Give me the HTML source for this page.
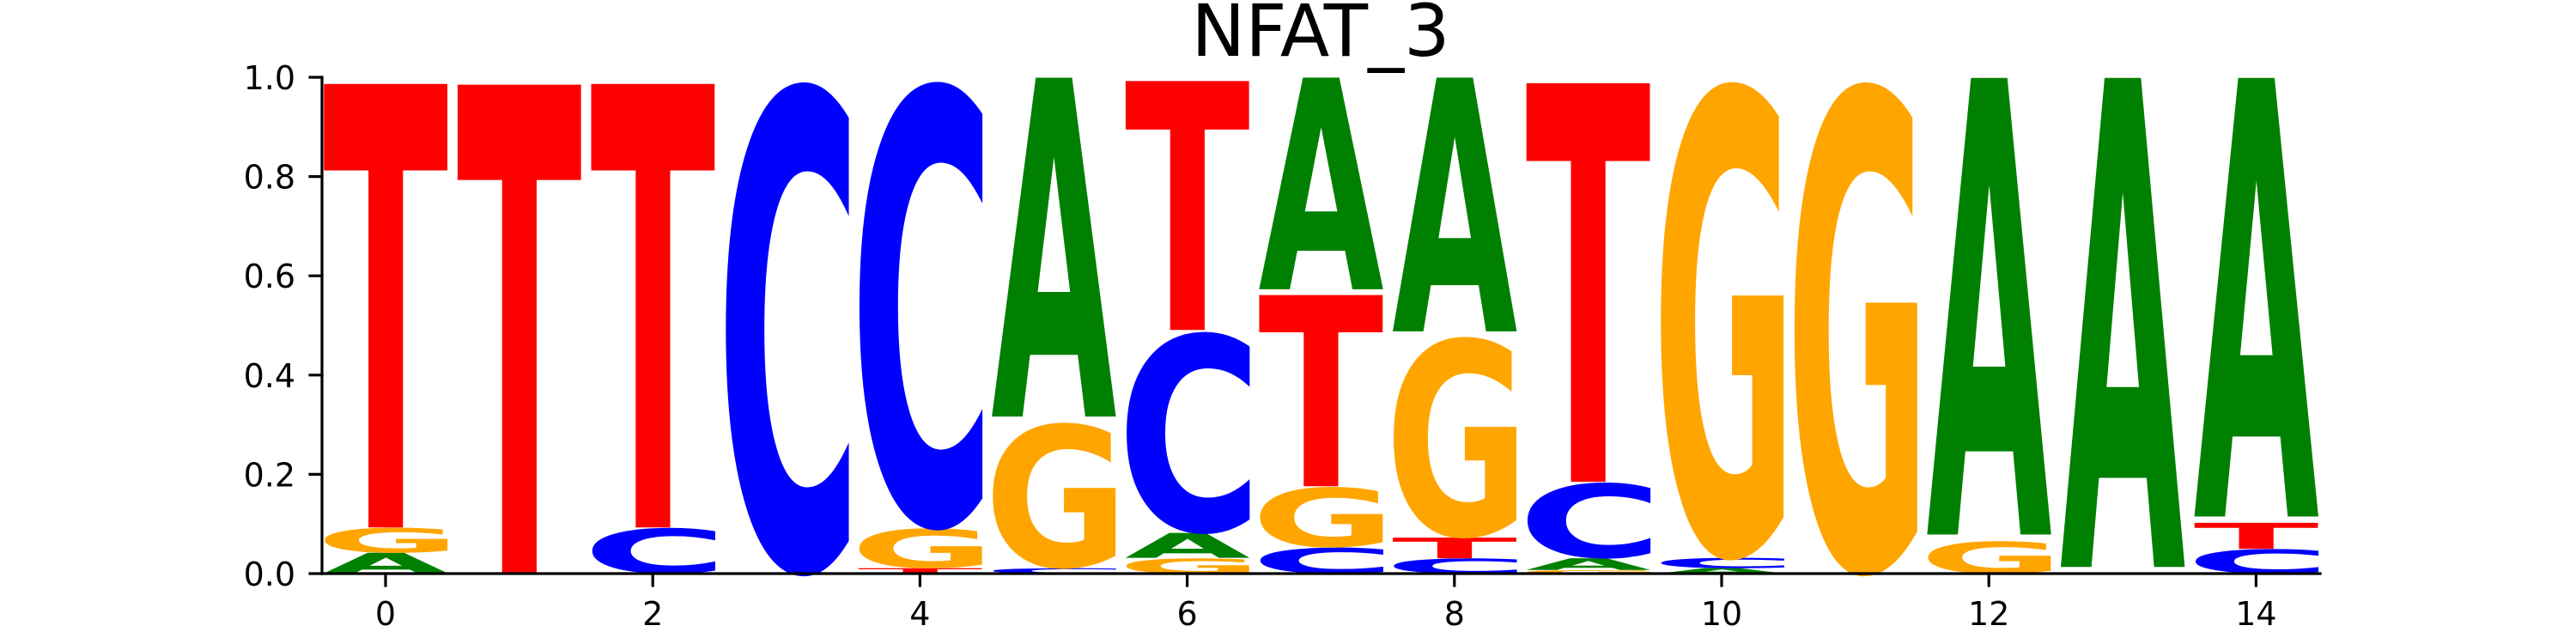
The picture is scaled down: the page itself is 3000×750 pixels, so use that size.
<!DOCTYPE html>
<html><head><meta charset="utf-8"><style>
html,body{margin:0;padding:0;background:#fff;width:3000px;height:750px;overflow:hidden}
svg{display:block}
text{font-family:"DejaVu Sans","Liberation Sans",sans-serif}
</style></head><body>
<svg id="chart" width="3000" height="750" viewBox="0 0 3000 750" overflow="hidden" xmlns="http://www.w3.org/2000/svg">
<defs><clipPath id="frameClip"><rect x="0" y="0" width="3000" height="750"/></clipPath></defs>
<text x="1538" y="65" font-size="84" text-anchor="middle">NFAT_3</text>
<svg x="0" y="0" width="3000" height="750" overflow="hidden">
<g id="letters" clip-path="url(#frameClip)"></g>
</svg>
<g id="axes"></g>
</svg>
<script>
const positions = [0,1,2,3,4,5,6,7,8,9,10,11,12,13,14];
const aVals = [0.042,0,0,0,0,0.693,0.051,0.433,0.519,0.024,0.011,0,0.934,1,0.897];
const cVals = [0,0,0.093,1,0.908,0.011,0.409,0.053,0.031,0.154,0.021,0,0,0,0.050];
const gVals = [0.051,0,0,0,0.081,0.296,0.031,0.123,0.408,0.007,0.968,1,0.066,0,0];
const tVals = [0.907,1,0.907,0,0.011,0,0.509,0.391,0.042,0.815,0,0,0,0,0.053];
const xTicks = [0,2,4,6,8,10,12,14];
const yTicks = [0,0.2,0.4,0.6,0.8,1.0];

const NS = "http://www.w3.org/2000/svg";
const X0 = 449, XS = 155.6, Y0 = 668, YS = 578;
function xs(v){ return X0 + v*XS; }
function ys(v){ return Y0 - v*YS; }
const colors = {A:"#008000", C:"#0000ff", G:"#ffa500", T:"#ff0000"};
const series = {A:aVals, C:cVals, G:gVals, T:tVals};

const cv = document.createElement("canvas");
const ctx = cv.getContext("2d");
ctx.font = 'bold 100px "DejaVu Sans"';
const metrics = {};
for (const L of ["A","C","G","T"]) {
  const m = ctx.measureText(L);
  metrics[L] = {l:m.actualBoundingBoxLeft, r:m.actualBoundingBoxRight, a:m.actualBoundingBoxAscent, d:m.actualBoundingBoxDescent};
}

const lg = document.getElementById("letters");
const colW = 0.935 * XS;
positions.forEach((p, i) => {
  const stack = ["A","C","G","T"].map(L => [L, series[L][i]]).filter(e => e[1] > 0);
  stack.sort((a,b) => a[1]-b[1]);
  let base = 0;
  stack.forEach(([L, v]) => {
    const m = metrics[L];
    const x0 = xs(p) - colW/2;
    const ytop = ys(base + v);
    const h = ys(base) - ys(base+v);
    const sx = colW/(m.l + m.r), sy = h/(m.a + m.d);
    const t = document.createElementNS(NS, "text");
    t.setAttribute("x", 0);
    t.setAttribute("y", 0);
    t.setAttribute("font-size", 100);
    t.setAttribute("font-weight", "bold");
    t.setAttribute("fill", colors[L]);
    t.setAttribute("transform", `translate(${x0 + m.l*sx},${ytop + m.a*sy}) scale(${sx},${sy})`);
    t.textContent = L;
    
    
    lg.appendChild(t);
    base += v;
  });
});

const ax = document.getElementById("axes");
function line(x1,y1,x2,y2,name){
  const l = document.createElementNS(NS,"line");
  l.setAttribute("x1",x1); l.setAttribute("y1",y1);
  l.setAttribute("x2",x2); l.setAttribute("y2",y2);
  l.setAttribute("stroke","#000"); l.setAttribute("stroke-width",3.2);
  l.setAttribute("stroke-linecap","square");
  
  
  ax.appendChild(l);
}
function label(x,y,s,anchor,name){
  const t = document.createElementNS(NS,"text");
  t.setAttribute("x",x); t.setAttribute("y",y);
  t.setAttribute("font-size",38); t.setAttribute("text-anchor",anchor);
  t.textContent = s;
  
  
  ax.appendChild(t);
}
line(375, ys(1), 375, Y0, "y-axis-line");
line(375, Y0, 2702, Y0, "x-axis-line");
xTicks.forEach(v => {
  line(xs(v), Y0, xs(v), Y0+14, "x-tick");
  label(xs(v), 728, String(v), "middle", "x-tick-label");
});
yTicks.forEach(v => {
  line(361, ys(v), 375, ys(v), "y-tick");
  label(344, ys(v)+14, v.toFixed(1), "end", "y-tick-label");
});
</script>
</body></html>
